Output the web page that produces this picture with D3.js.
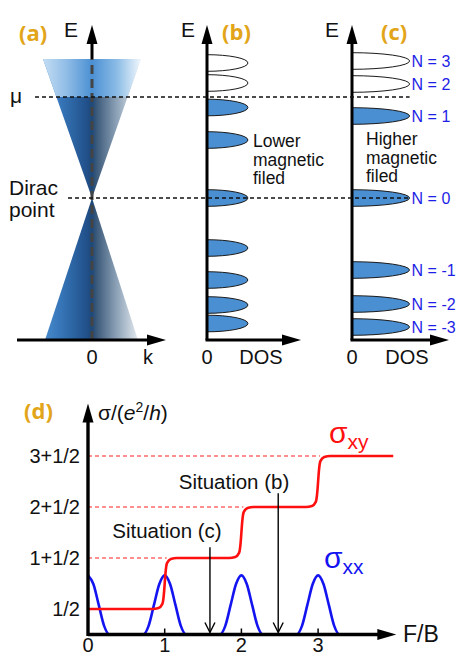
<!DOCTYPE html>
<html>
<head>
<meta charset="utf-8">
<script src="https://cdn.jsdelivr.net/npm/d3@7"></script>
<style>
  body { margin: 0; background: #fff; }
  svg { display: block; font-family: "Liberation Sans", Arial, Helvetica, sans-serif; }
</style>
</head>
<body>
<svg id="fig" width="458" height="657"></svg>
<script>
// ---------- Energy diagrams (a)-(c): energies in relative units, 0 = Dirac point ----------
const chemPotential = 1.01;
const coneTop = [1.39, -0.98, 0.98];      // [E, k left edge, k right edge]
const coneBottom = [-1.42, -0.94, 0.92];

// Landau levels, lower field (b)
const levelsLow = [1.35, 1.15, 0.905, 0.58, 0, -0.50, -0.82, -1.07, -1.255];
const levelsLowFilled = [false, false, true, true, true, true, true, true, true];
// Landau levels, higher field (c)
const levelsHigh = [1.37, 1.14, 0.82, 0, -0.72, -1.06, -1.29];
const levelsHighFilled = [false, false, true, true, true, true, true];
const levelsHighLabels = ["N = 3", "N = 2", "N = 1", "N = 0", "N = -1", "N = -2", "N = -3"];
const levelHalfWidth = 0.083;
const dosPeakLow = 0.44;
const dosPeakHigh = 0.6;

// ---------- Conductivity panel (d) ----------
const xTicks = [0, 1, 2, 3];
const yTickValues = [0.5, 1.5, 2.5, 3.5];
const yTickLabels = ["1/2", "1+1/2", "2+1/2", "3+1/2"];
const plateauEnds = [1, 2, 3];            // where each dashed guide meets the sigma_xy curve
const sigmaXY = [
  [0, 0.5], [0.84, 0.5], [0.92, 0.52], [0.97, 0.6], [0.99, 0.8], [1.0, 1.0], [1.01, 1.2], [1.03, 1.4], [1.08, 1.48], [1.16, 1.5],
  [1.84, 1.5], [1.92, 1.52], [1.97, 1.6], [1.99, 1.8], [2.0, 2.0], [2.01, 2.2], [2.03, 2.4], [2.08, 2.48], [2.16, 2.5],
  [2.84, 2.5], [2.92, 2.52], [2.97, 2.6], [2.99, 2.8], [3.0, 3.0], [3.01, 3.2], [3.03, 3.4], [3.08, 3.48], [3.16, 3.5],
  [3.98, 3.5]
];
const sigmaXX = [
  [0, 1.16], [0.07, 0.99], [0.14, 0.58], [0.21, 0.17], [0.28, 0],
  [0.72, 0], [0.79, 0.17], [0.86, 0.58], [0.93, 0.99], [1, 1.16], [1.07, 0.99], [1.14, 0.58], [1.21, 0.17], [1.28, 0],
  [1.72, 0], [1.79, 0.17], [1.86, 0.58], [1.93, 0.99], [2, 1.16], [2.07, 0.99], [2.14, 0.58], [2.21, 0.17], [2.28, 0],
  [2.72, 0], [2.79, 0.17], [2.86, 0.58], [2.93, 0.99], [3, 1.16], [3.07, 0.99], [3.14, 0.58], [3.21, 0.17], [3.28, 0],
  [3.3, 0]
];
const situations = [
  { name: "Situation (c)", x: 1.59, from: 1.71 },
  { name: "Situation (b)", x: 2.48, from: 2.77 }
];

const svg = d3.select("#fig");
const gold = "#e2a519";
const defs = svg.append("defs");

// scales
const ey = d3.scaleLinear().domain([-1.42, 1.73]).range([340, 25]);
const kx = d3.scaleLinear().domain([-1, 1]).range([42, 142]);
const dosB = d3.scaleLinear().domain([0, 1]).range([207, 300]);
const dosC = d3.scaleLinear().domain([0, 1]).range([352, 448]);
const fx = d3.scaleLinear().domain([0, 4]).range([88, 394.8]);
const sy = d3.scaleLinear().domain([0, 4.53]).range([634.5, 403.5]);

function gradient(id, stops) {
  const g = defs.append("linearGradient").attr("id", id)
    .attr("gradientUnits", "userSpaceOnUse")
    .attr("x1", kx(-1)).attr("x2", kx(1)).attr("y1", 0).attr("y2", 0);
  stops.forEach(([o, c]) => g.append("stop").attr("offset", o).attr("stop-color", c));
}
gradient("coneDark", [[0, "#4a8dcf"], [0.2, "#3574b6"], [0.45, "#21508a"], [0.5, "#1e4877"],
  [0.55, "#3d5b7b"], [0.75, "#8ea3b8"], [1, "#f3f6f9"]]);
gradient("coneLight", [[0, "#c6dff4"], [0.25, "#8fbce6"], [0.5, "#4b90d3"], [0.75, "#8cbce6"], [1, "#f6fafd"]]);

function arrowHead(x, y, dir, len = 19, half = 5.5) {
  let p;
  if (dir === "up") p = [[x, y], [x - half, y + len], [x + half, y + len]];
  else p = [[x, y], [x - len, y - half], [x - len, y + half]];
  svg.append("path").attr("d", d3.line()(p) + "Z").attr("fill", "#000");
}
function text(x, y, s, opts = {}) {
  const t = svg.append("text").attr("x", x).attr("y", y).text(s)
    .attr("font-size", opts.size || 20).attr("fill", opts.fill || "#111");
  if (opts.anchor) t.attr("text-anchor", opts.anchor);
  if (opts.weight) t.attr("font-weight", opts.weight);
  if (opts.family) t.attr("font-family", opts.family);
  return t;
}

// ---------- (a) Dirac cone ----------
const line = d3.line();
const upperTri = [[kx(0), ey(0)], [kx(coneTop[2]), ey(coneTop[0])], [kx(coneTop[1]), ey(coneTop[0])]];
const lowerTri = [[kx(0), ey(0)], [kx(coneBottom[2]), ey(coneBottom[0])], [kx(coneBottom[1]), ey(coneBottom[0])]];
svg.append("path").attr("d", line(upperTri) + "Z").attr("fill", "url(#coneDark)");
svg.append("path").attr("d", line(lowerTri) + "Z").attr("fill", "url(#coneDark)");
const f = chemPotential / coneTop[0];
const lightPart = [[kx(coneTop[1] * f), ey(chemPotential)], [kx(coneTop[2] * f), ey(chemPotential)],
  [kx(coneTop[2]), ey(coneTop[0])], [kx(coneTop[1]), ey(coneTop[0])]];
svg.append("path").attr("d", line(lightPart) + "Z").attr("fill", "url(#coneLight)");

// E axis: solid above the cone, dashed through it
svg.append("line").attr("x1", kx(0)).attr("x2", kx(0)).attr("y1", ey(coneTop[0])).attr("y2", ey(1.73) + 15)
  .attr("stroke", "#000").attr("stroke-width", 3);
svg.append("line").attr("x1", kx(0)).attr("x2", kx(0)).attr("y1", ey(coneBottom[0])).attr("y2", ey(coneTop[0]))
  .attr("stroke", "#444").attr("stroke-width", 3).attr("stroke-dasharray", "9,5");
arrowHead(kx(0), ey(1.73), "up");
svg.append("line").attr("x1", kx(-1.5)).attr("x2", 150).attr("y1", ey(-1.42)).attr("y2", ey(-1.42))
  .attr("stroke", "#000").attr("stroke-width", 3);
arrowHead(166, ey(-1.42), "right");

// ---------- (b), (c) Landau level DOS ----------
function levels(scale, energies, filled, amp) {
  energies.forEach((e, i) => {
    const x0 = scale(0);
    const yTop = ey(e + levelHalfWidth), yBot = ey(e - levelHalfWidth);
    const rx = scale(amp) - x0, ry = (yBot - yTop) / 2;
    svg.append("path")
      .attr("d", `M${x0},${yTop} A${rx},${ry} 0 0 1 ${x0},${yBot} Z`)
      .attr("fill", filled[i] ? "#4a8fd2" : "none")
      .attr("stroke", "#1a1a1a").attr("stroke-width", 1);
  });
}
levels(dosB, levelsLow, levelsLowFilled, dosPeakLow);
levels(dosC, levelsHigh, levelsHighFilled, dosPeakHigh);

levelsHigh.forEach((e, i) => {
  text(dosC(dosPeakHigh) + 2, ey(e), levelsHighLabels[i], { size: 16, fill: "#1e1ee6" })
    .attr("dy", "0.36em");
});

[dosB, dosC].forEach(s => {
  svg.append("line").attr("x1", s(0)).attr("x2", s(0)).attr("y1", ey(-1.42)).attr("y2", ey(1.73) + 15)
    .attr("stroke", "#000").attr("stroke-width", 3);
  arrowHead(s(0), ey(1.73), "up");
  svg.append("line").attr("x1", s(0) - 1.5).attr("x2", s(1) - 12).attr("y1", ey(-1.42)).attr("y2", ey(-1.42))
    .attr("stroke", "#000").attr("stroke-width", 3);
  arrowHead(s(1) + 1, ey(-1.42), "right");
});

// reference energies
svg.append("line").attr("x1", 35).attr("x2", dosC(dosPeakHigh)).attr("y1", ey(chemPotential)).attr("y2", ey(chemPotential))
  .attr("stroke", "#111").attr("stroke-width", 1.3).attr("stroke-dasharray", "4,3");
svg.append("line").attr("x1", 68).attr("x2", dosC(dosPeakHigh)).attr("y1", ey(0)).attr("y2", ey(0))
  .attr("stroke", "#111").attr("stroke-width", 1.3).attr("stroke-dasharray", "4,3");

// labels for (a)-(c)
text(19, 41, "(a)", { size: 22, weight: 700, fill: gold, family: "'Open Sans', sans-serif" });
text(222, 40, "(b)", { size: 22, weight: 700, fill: gold, family: "'Open Sans', sans-serif" });
text(381, 40, "(c)", { size: 22, weight: 700, fill: gold, family: "'Open Sans', sans-serif" });
text(64, 37, "E", { size: 21 });
text(181, 37, "E", { size: 21 });
text(325, 37, "E", { size: 21 });
text(10, 103, "μ", { size: 21 });
text(9, 195, "Dirac", { size: 21 });
text(9, 217, "point", { size: 21 });
text(kx(0), 364, "0", { size: 20, anchor: "middle" });
text(148, 364, "k", { size: 20, anchor: "middle" });
text(dosB(0), 364, "0", { size: 20, anchor: "middle" });
text(261, 364, "DOS", { size: 20, anchor: "middle" });
text(dosC(0), 364, "0", { size: 20, anchor: "middle" });
text(407, 364, "DOS", { size: 20, anchor: "middle" });
["Lower", "magnetic", "filed"].forEach((s, i) => text(253, 147 + i * 18.5, s, { size: 17.5 }));
["Higher", "magnetic", "filed"].forEach((s, i) => text(366, 145 + i * 18.5, s, { size: 17.5 }));

// ---------- (d) conductivities ----------
// dashed guides at the Hall plateaus
yTickValues.slice(1).forEach((v, i) => {
  svg.append("line").attr("x1", fx(0)).attr("x2", fx(plateauEnds[i]) + 2).attr("y1", sy(v)).attr("y2", sy(v))
    .attr("stroke", "#ff6a6a").attr("stroke-width", 1.3).attr("stroke-dasharray", "4,3");
});

const curve = d3.line().x(d => fx(d[0])).y(d => sy(d[1])).curve(d3.curveMonotoneX);
svg.append("path").attr("d", curve(sigmaXX)).attr("fill", "none").attr("stroke", "#1414f0").attr("stroke-width", 2.6);
svg.append("path").attr("d", curve(sigmaXY)).attr("fill", "none").attr("stroke", "#ff1010").attr("stroke-width", 2.6);

// axes
svg.append("line").attr("x1", fx(0)).attr("x2", fx(0)).attr("y1", sy(0) + 1.5).attr("y2", sy(4.53) + 15)
  .attr("stroke", "#000").attr("stroke-width", 3.4);
arrowHead(fx(0), sy(4.53), "up");
svg.append("line").attr("x1", fx(0)).attr("x2", fx(4) - 12).attr("y1", sy(0)).attr("y2", sy(0))
  .attr("stroke", "#000").attr("stroke-width", 3.4);
arrowHead(fx(4) + 1.5, sy(0), "right");
xTicks.slice(1).forEach(t => {
  svg.append("line").attr("x1", fx(t)).attr("x2", fx(t)).attr("y1", sy(0)).attr("y2", sy(0) - 6)
    .attr("stroke", "#000").attr("stroke-width", 1.5);
});
xTicks.forEach(t => text(fx(t), 652, String(t), { size: 20, anchor: "middle" }));
yTickValues.forEach((v, i) => text(80, sy(v), yTickLabels[i], { size: 20, anchor: "end" }).attr("dy", "0.36em"));

// situation arrows
situations.forEach(s => {
  const x = fx(s.x), y0 = sy(s.from), y1 = sy(0) - 2;
  svg.append("line").attr("x1", x).attr("x2", x).attr("y1", y0).attr("y2", y1)
    .attr("stroke", "#000").attr("stroke-width", 1.4);
  svg.append("path").attr("d", d3.line()([[x - 5, y1 - 10], [x, y1], [x + 5, y1 - 10]]))
    .attr("fill", "none").attr("stroke", "#000").attr("stroke-width", 1.4);
});
text(167, 538, situations[0].name, { size: 20.5, anchor: "middle" });
text(234, 489, situations[1].name, { size: 20.5, anchor: "middle" });

// titles and curve labels
text(24, 419, "(d)", { size: 22, weight: 700, fill: gold, family: "'Open Sans', sans-serif" });
const yl = text(98, 420, "σ/(", { size: 21 });
yl.append("tspan").attr("font-style", "italic").text("e");
yl.append("tspan").attr("font-size", 14).attr("dy", -8).text("2");
yl.append("tspan").attr("dy", 8).text("/");
yl.append("tspan").attr("font-style", "italic").text("h");
yl.append("tspan").text(")");
text(403, 642, "F/B", { size: 23 });

const lxy = text(329, 443, "σ", { size: 30, fill: "#ff1010" });
lxy.append("tspan").attr("font-size", 21).attr("dy", 6).text("xy");
const lxx = text(324, 568, "σ", { size: 30, fill: "#1414f0" });
lxx.append("tspan").attr("font-size", 21).attr("dy", 6).text("xx");
</script>
</body>
</html>
